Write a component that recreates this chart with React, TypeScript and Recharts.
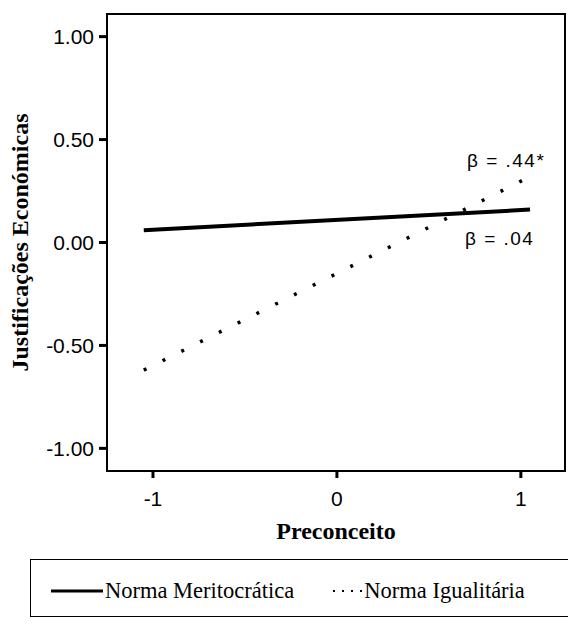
import React from 'react'
import { LineChart, Line, XAxis, YAxis, ReferenceArea, ReferenceDot } from 'recharts'

const preconceito = [-1.05, 1.05]
const meritocratica = [0.06, 0.16]
const igualitaria = [-0.62, 0.32]
const xTicks = [-1, 0, 1]
const yTicks = [-1, -0.5, 0, 0.5, 1]

const series = [
    { key: 'meritocratica', name: 'Norma Meritocrática', dash: undefined as string | undefined },
    { key: 'igualitaria', name: 'Norma Igualitária', dash: '3 18' },
]

const betas = [
    { x: 0.92, y: 0.4, text: 'β = .44*' },
    { x: 0.885, y: 0.02, text: 'β = .04' },
]

const data = preconceito.map((x, i) => ({
    x,
    meritocratica: meritocratica[i],
    igualitaria: igualitaria[i],
}))

const X_DOMAIN: [number, number] = [-1.25, 1.24]
const Y_DOMAIN: [number, number] = [-1.11, 1.11]

const tickFont = { fontFamily: 'Liberation Sans, Arial, sans-serif', fontSize: 21, fill: '#000' }
const titleFont = { fontFamily: 'Liberation Serif, Times New Roman, serif', fontSize: 24, fontWeight: 'bold', fill: '#000' }

export default function App() {
    return (
        <div style={{ position: 'absolute', left: 0, top: 0, width: 568, height: 624, background: '#fff' }}>
            <LineChart width={568} height={624} data={data} margin={{ top: 14, right: 3, bottom: 123, left: 0 }}>
                <XAxis
                    dataKey="x"
                    type="number"
                    domain={X_DOMAIN}
                    ticks={xTicks}
                    allowDataOverflow
                    height={30}
                    tickSize={7}
                    tickMargin={13}
                    axisLine={{ stroke: '#000', strokeWidth: 2 }}
                    tickLine={{ stroke: '#000', strokeWidth: 3 }}
                    tick={tickFont}
                    label={{ value: 'Preconceito', position: 'bottom', offset: 21, style: titleFont }}
                />
                <YAxis
                    type="number"
                    domain={Y_DOMAIN}
                    ticks={yTicks}
                    allowDataOverflow
                    width={107}
                    tickSize={8}
                    tickMargin={5}
                    tickFormatter={(v: number) => v.toFixed(2)}
                    axisLine={{ stroke: '#000', strokeWidth: 2 }}
                    tickLine={{ stroke: '#000', strokeWidth: 3 }}
                    tick={tickFont}
                    label={{
                        value: 'Justificações Económicas',
                        angle: -90,
                        position: 'insideLeft',
                        offset: 19,
                        style: { ...titleFont, textAnchor: 'middle' },
                    }}
                />
                <ReferenceArea
                    x1={X_DOMAIN[0]}
                    x2={X_DOMAIN[1]}
                    y1={Y_DOMAIN[0]}
                    y2={Y_DOMAIN[1]}
                    fill="none"
                    stroke="#000"
                    strokeWidth={2}
                />
                {series.map((s) => (
                    <Line
                        key={s.key}
                        dataKey={s.key}
                        name={s.name}
                        stroke="#000"
                        strokeWidth={s.dash ? 3.5 : 4}
                        strokeDasharray={s.dash}
                        dot={false}
                        activeDot={false}
                        isAnimationActive={false}
                    />
                ))}
                {betas.map((b) => (
                    <ReferenceDot
                        key={b.text}
                        x={b.x}
                        y={b.y}
                        r={1}
                        fill="none"
                        stroke="none"
                        label={{
                            value: b.text,
                            position: 'center',
                            style: { ...tickFont, fontSize: 19, letterSpacing: 1.5 },
                        }}
                    />
                ))}
            </LineChart>
            <div
                style={{
                    position: 'absolute',
                    left: 30,
                    top: 559,
                    width: 560,
                    height: 58,
                    border: '1px solid #000',
                    boxSizing: 'border-box',
                    paddingTop: 6,
                    display: 'flex',
                    alignItems: 'center',
                    fontFamily: 'Liberation Serif, Times New Roman, serif',
                    fontSize: 22.5,
                    color: '#000',
                }}
            >
                {series.map((s, i) => (
                    <div key={s.key} style={{ display: 'flex', alignItems: 'center', marginLeft: i === 0 ? 20 : 38 }}>
                        <svg width={s.dash ? 30 : 52} height={10} style={{ marginRight: 2 }}>
                            {s.dash ? (
                                <line x1={1} y1={5} x2={30} y2={5} stroke="#000" strokeWidth={2} strokeDasharray="2 7" />
                            ) : (
                                <line x1={0} y1={5} x2={52} y2={5} stroke="#000" strokeWidth={3} />
                            )}
                        </svg>
                        <span>{s.name}</span>
                    </div>
                ))}
            </div>
        </div>
    )
}
